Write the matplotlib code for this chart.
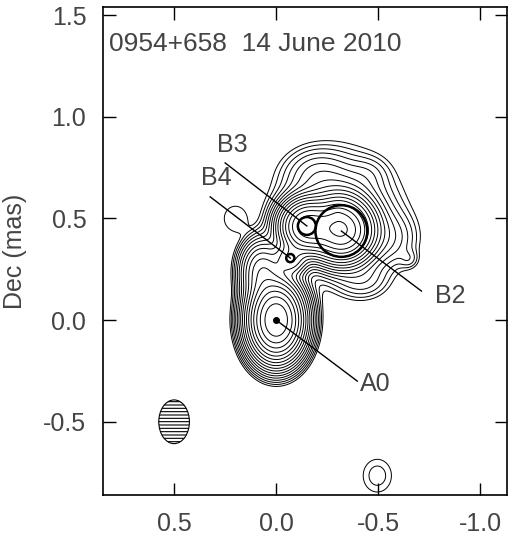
import numpy as np
import matplotlib.pyplot as plt
from matplotlib.patches import Ellipse, Circle

# brightness model: blobs at (x, y) mas, peak in units of
# the lowest contour, widths sx/sy in mas, shape power (2 = gaussian, 1 = exponential)
blob_x = [0.0, -0.30, -0.32, -0.15, -0.07, 0.07, -0.55, -0.65, -0.42, -0.20, 0.205, -0.495, -0.45]
blob_y = [0.0, 0.52, 0.44, 0.46, 0.30, 0.24, 0.40, 0.30, 0.20, 0.72, 0.50, -0.765, 0.72]
blob_peak = [362.0, 60.0, 250.0, 220.0, 40.0, 40.0, 4.0, 1.6, 3.0, 4.0, 1.15, 1.7, 1.5]
blob_sx = [0.066, 0.042, 0.075, 0.065, 0.045, 0.055, 0.080, 0.030, 0.080, 0.090, 0.060, 0.067, 0.060]
blob_sy = [0.095, 0.042, 0.075, 0.065, 0.045, 0.080, 0.080, 0.030, 0.060, 0.070, 0.068, 0.078, 0.050]
blob_pow = [2.0, 1.0, 2.0, 2.0, 2.0, 2.0, 2.0, 2.0, 2.0, 2.0, 4.0, 2.0, 2.0]

lowest = 1.0
step = np.sqrt(2.0)
n_levels = 20

# model-fit components
comp_names = ["A0", "B4", "B3", "B2"]
comp_x = [0.0, -0.069, -0.150, -0.319]
comp_y = [0.0, 0.305, 0.463, 0.438]
comp_r = [0.0, 0.020, 0.044, 0.127]
label_x = [-0.485, 0.295, 0.215, -0.850]
label_y = [-0.315, 0.700, 0.862, 0.118]
leader_x = [-0.397, 0.323, 0.250, -0.711]
leader_y = [-0.300, 0.606, 0.773, 0.143]

beam_x, beam_y = 0.5, -0.5
beam_w, beam_h = 0.150, 0.215

xs = np.linspace(-1.2, 0.9, 800)
ys = np.linspace(-0.9, 1.6, 950)
X, Y = np.meshgrid(xs, ys)
Z = np.zeros_like(X)
for bx, by, bp, sx, sy, pw in zip(blob_x, blob_y, blob_peak, blob_sx, blob_sy, blob_pow):
    rho = np.sqrt(((X - bx) / sx) ** 2 + ((Y - by) / sy) ** 2)
    Z += bp * np.exp(-0.5 * rho ** pw)

levels = lowest * step ** np.arange(n_levels)

plt.rcParams['font.family'] = ['Liberation Sans', 'DejaVu Sans']
plt.rcParams['hatch.linewidth'] = 0.8
txt = '#444444'

fig = plt.figure(figsize=(5.19, 5.49), dpi=100)
ax = fig.add_axes([0.1985, 0.0984, 0.7784, 0.8889])

ax.contour(X, Y, Z, levels=levels, colors='black', linewidths=0.7)

for name, cx, cy, r, lx, ly, ex, ey in zip(comp_names, comp_x, comp_y, comp_r,
                                            label_x, label_y, leader_x, leader_y):
    if r > 0:
        ax.add_patch(Circle((cx, cy), r, fill=False, lw=1.8, color='black', zorder=3))
    else:
        ax.plot(cx, cy, 'o', ms=4, color='black', zorder=3)
    ax.plot([cx, ex], [cy, ey], color='black', lw=1.0, zorder=3)
    ax.text(lx, ly, name, fontsize=18, color=txt, ha='center', va='center')

ax.add_patch(Ellipse((beam_x, beam_y), beam_w, beam_h, facecolor='white',
                     edgecolor='black', hatch='-----', lw=0.8))

ax.text(0.82, 1.36, "0954+658  14 June 2010", fontsize=19, color=txt,
        ha='left', va='center')

ax.set_xlim(0.848, -1.13)
ax.set_ylim(-0.86, 1.54)
ax.set_xticks([0.5, 0.0, -0.5, -1.0])
ax.set_yticks([-0.5, 0.0, 0.5, 1.0, 1.5])
ax.set_xticklabels(["0.5", "0.0", "-0.5", "-1.0"])
ax.set_yticklabels(["-0.5", "0.0", "0.5", "1.0", "1.5"])
ax.tick_params(direction='in', length=9, width=1.0, top=True, right=True,
               labelsize=18, labelcolor=txt, pad=12)
for s in ax.spines.values():
    s.set_linewidth(1.2)
ax.set_ylabel("Dec (mas)", fontsize=18, color=txt, labelpad=12)

fig.savefig("out.png", dpi=100)
